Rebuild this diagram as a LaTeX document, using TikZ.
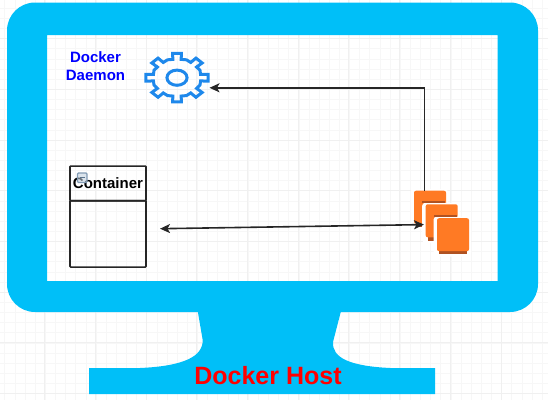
\documentclass[tikz,border=0pt]{standalone}
\usepackage{fontspec}
\setmainfont{Liberation Sans}
\usetikzlibrary{arrows.meta}
\tikzset{
    label14/.style={font=\bfseries\fontsize{15}{18}\selectfont, inner sep=0pt},
    boxpart/.style={draw=black!85, line width=1.6pt, rounded corners=0.8pt, inner sep=0pt, minimum width=76pt},
    stackblock/.style={fill=blockorange, rounded corners=2pt, inner sep=0pt, minimum width=32pt, minimum height=33pt},
    link/.style={draw=black!85, line width=1.6pt},
    tip/.style={-{Stealth[length=10pt,width=9pt,inset=2.5pt]}},
    bothtips/.style={{Stealth[length=10pt,width=9pt,inset=2.5pt]}-{Stealth[length=10pt,width=9pt,inset=2.5pt]}}
}
\begin{document}
\begin{tikzpicture}[x=1pt, y=-1pt]
            \definecolor{hostblue}{RGB}{0,191,248}
            \colorlet{gridgray}{black!6}
            \definecolor{gearblue}{RGB}{30,136,235}
            \definecolor{blockorange}{RGB}{255,122,36}
            \definecolor{blockdark}{RGB}{176,82,34}
            \definecolor{iconedge}{RGB}{130,155,180}
            \definecolor{iconfill}{RGB}{190,205,220}
            \definecolor{icondash}{RGB}{90,115,140}
            \useasboundingbox (0,0) rectangle (548,400);

            % Background grid
            \foreach \k in {-4,...,54} {
                \draw[gridgray!50, line width=0.5pt] (4.7+10.14*\k,0) -- (4.7+10.14*\k,400);
            }
            \foreach \k in {-3,...,39} {
                \draw[gridgray!50, line width=0.5pt] (0,-12.1+10.14*\k) -- (548,-12.1+10.14*\k);
            }
            \foreach \k in {0,...,10} {
                \draw[gridgray, line width=1pt] (-6+50.7*\k,0) -- (-6+50.7*\k,400);
            }
            \foreach \k in {0,...,7} {
                \draw[gridgray, line width=1pt] (0,38.6+50.7*\k) -- (548,38.6+50.7*\k);
            }

            % Monitor frame and stand
            \fill[hostblue, even odd rule, rounded corners=28pt]
                (7,2.5) rectangle (538,312) [sharp corners] (47,35) rectangle (497.5,281);
            \fill[hostblue]
                (197.7,311) -- (202.7,340) .. controls (203,356) and (185,366) .. (140,368)
                -- (89,368) -- (89,394) -- (435,394) -- (435,368) -- (390,368)
                .. controls (350,366) and (332,358) .. (333,342) -- (341,311) -- cycle;
            \node[text=red, inner sep=0pt, font=\bfseries\fontsize{25}{30}\selectfont] (hostlabel) at (268,375.5) {Docker Host};

            % Daemon gear
            \node[text=blue, align=center, inner sep=0pt, font=\bfseries\fontsize{15}{18}\selectfont] (daemonlabel) at (95.5,66) {Docker\\Daemon};
            \begin{scope}[shift={(177,77.7)}, x=31.5pt, y=-24.5pt]
                \draw[gearblue, line width=3pt, line join=miter]
                    (-8:1) \foreach \a in {0, 45, 90, 135, 180, 225, 270, 315} {
                        -- (\a-8:1) -- (\a+8:1) -- (\a+10:0.76) -- (\a+22.5:0.79) -- (\a+35:0.76)
                    } -- cycle;
                \draw[gearblue, line width=3pt] (0,0) circle [x radius=0.32, y radius=0.31];
            \end{scope}
            \coordinate (daemonin) at (209.5,87.8);

            % Container box
            \node[boxpart, minimum height=34.7pt, label14, text depth=-1pt] (containerhead) at (108,183.4) {Container};
            \node[boxpart, minimum height=66.3pt] (containerbody) at (108,233.9) {};
            \filldraw[draw=iconedge, fill=iconfill, fill opacity=0.55, line width=1.2pt, rounded corners=1pt]
                (77.5,173) rectangle (87,182.5);
            \draw[icondash, line width=1pt] (79.5,177.7) -- (85,177.7);
            \coordinate (containerout) at (160,228.7);

            % Stacked blocks
            \foreach \n/\x/\y in {1/430/207.2, 2/441.7/220.8, 3/453/234.7} {
                \fill[white, rounded corners=3pt] (\x-19.5,\y-18) rectangle (\x+18,\y+22);
                \fill[blockdark] (\x-14,\y+14) rectangle (\x+14,\y+19.7);
                \node[stackblock] (block\n) at (\x,\y) {};
            }
            \fill[blockdark] (422.3,200.8) rectangle (445,202.8);
            \fill[blockdark] (433.5,214.7) rectangle (457,216.7);
            \coordinate (blockin) at (424,224.6);
            \coordinate (blocktop) at (424.6,191);
            \coordinate (linkbend) at (424.6,87.8);

            % Connectors
            \draw[link, tip] (blocktop) -- (linkbend) -- (daemonin);
            \draw[link, bothtips] (containerout) -- (blockin);
\end{tikzpicture}
\end{document}
